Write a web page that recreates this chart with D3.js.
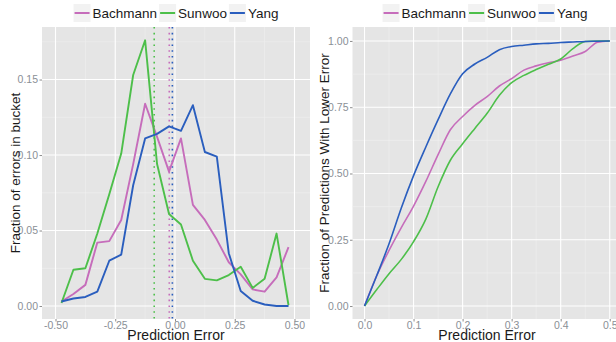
<!DOCTYPE html>
<html><head><meta charset="utf-8">
<script src="https://cdn.jsdelivr.net/npm/d3@7"></script>
<style>body{margin:0;background:#fff}svg{display:block}text{font-family:"Liberation Sans",Arial,sans-serif}</style>
</head><body>
<svg id="c" width="616" height="342"></svg>
<script>
// ---- data ----
const seriesNames = ["Bachmann", "Sunwoo", "Yang"];
const seriesColors = ["#C66DBB", "#4DBF4A", "#2A5EBE"];
const bucketCenters = [-0.475,-0.425,-0.375,-0.325,-0.275,-0.225,-0.175,-0.125,-0.075,-0.025,0.025,0.075,0.125,0.175,0.225,0.275,0.325,0.375,0.425,0.475];
const bachmannFrac = [0.003,0.008,0.014,0.042,0.043,0.057,0.094,0.134,0.112,0.089,0.111,0.067,0.057,0.044,0.029,0.021,0.011,0.0095,0.019,0.039];
const sunwooFrac   = [0.002,0.024,0.025,0.048,0.074,0.101,0.153,0.176,0.094,0.061,0.054,0.030,0.018,0.017,0.0205,0.026,0.012,0.018,0.048,0.0005];
const yangFrac     = [0.003,0.005,0.006,0.0095,0.030,0.034,0.080,0.111,0.114,0.119,0.116,0.133,0.102,0.099,0.035,0.010,0.0035,0.001,0.0,0.0];
const meanErrors   = [-0.024, -0.087, -0.011]; // Bachmann, Sunwoo, Yang
const cdfX = [0,0.025,0.05,0.075,0.1,0.125,0.15,0.175,0.2,0.225,0.25,0.275,0.3,0.325,0.35,0.375,0.4,0.425,0.45,0.475,0.5];
const bachmannCdf = [0,0.115,0.21,0.296,0.377,0.47,0.571,0.665,0.715,0.757,0.79,0.83,0.858,0.89,0.906,0.918,0.927,0.943,0.96,0.995,1.0];
const sunwooCdf   = [0,0.062,0.122,0.176,0.243,0.328,0.45,0.55,0.612,0.67,0.727,0.795,0.843,0.87,0.892,0.912,0.932,0.971,0.998,1.0,1.0];
const yangCdf     = [0,0.115,0.235,0.37,0.492,0.60,0.703,0.80,0.876,0.913,0.938,0.967,0.979,0.984,0.989,0.991,0.994,0.996,0.998,0.999,1.0];
const leftXTicks = [-0.5,-0.25,0,0.25,0.5];
const leftYTicks = [0,0.05,0.10,0.15];
const rightXTicks = [0,0.1,0.2,0.3,0.4,0.5];
const rightYTicks = [0,0.25,0.5,0.75,1.0];
const xTitle = "Prediction Error";
const leftYTitle = "Fraction of errors in bucket";
const rightYTitle = "Fraction of Predictions With Lower Error";

const svg = d3.select("#c");
const PANEL_BG = "#E5E5E5", MINOR = "#F0F0F0", MAJOR = "#FFFFFF", TICKC = "#8C8C8C";

function drawPanel(o) {
  const g = svg.append("g");
  const x = d3.scaleLinear().domain(o.xDom).range([o.x0, o.x1]);
  const y = d3.scaleLinear().domain(o.yDom).range([o.y1, o.y0]);
  g.append("rect").attr("x", o.x0).attr("y", o.y0).attr("width", o.x1 - o.x0).attr("height", o.y1 - o.y0).attr("fill", PANEL_BG);
  const mid = t => t.slice(0, -1).map((v, i) => (v + t[i + 1]) / 2);
  const xm = mid(o.xTicks), ym = mid(o.yTicks);
  const xstep = o.xTicks[1] - o.xTicks[0], ystep = o.yTicks[1] - o.yTicks[0];
  xm.push(o.xTicks[o.xTicks.length - 1] + xstep / 2); xm.unshift(o.xTicks[0] - xstep / 2);
  ym.push(o.yTicks[o.yTicks.length - 1] + ystep / 2);
  g.selectAll(".mx").data(xm.filter(v => x(v) > o.x0 && x(v) < o.x1)).join("line")
    .attr("x1", d => x(d)).attr("x2", d => x(d)).attr("y1", o.y0).attr("y2", o.y1).attr("stroke", MINOR).attr("stroke-width", 0.6);
  g.selectAll(".my").data(ym.filter(v => y(v) > o.y0 && y(v) < o.y1)).join("line")
    .attr("y1", d => y(d)).attr("y2", d => y(d)).attr("x1", o.x0).attr("x2", o.x1).attr("stroke", MINOR).attr("stroke-width", 0.6);
  g.selectAll(".Mx").data(o.xTicks).join("line")
    .attr("x1", d => x(d)).attr("x2", d => x(d)).attr("y1", o.y0).attr("y2", o.y1).attr("stroke", MAJOR).attr("stroke-width", 1.1);
  g.selectAll(".My").data(o.yTicks).join("line")
    .attr("y1", d => y(d)).attr("y2", d => y(d)).attr("x1", o.x0).attr("x2", o.x1).attr("stroke", MAJOR).attr("stroke-width", 1.1);
  const xa = g.append("g").attr("transform", `translate(0,${o.y1})`)
    .call(d3.axisBottom(x).tickValues(o.xTicks).tickFormat(d => o.xFmt(d).replace("−", "-")).tickSize(2.5).tickPadding(0.5));
  const ya = g.append("g").attr("transform", `translate(${o.x0},0)`)
    .call(d3.axisLeft(y).tickValues(o.yTicks).tickFormat(d => d3.format(".2f")(d)).tickSize(2.5).tickPadding(1.5));
  [xa, ya].forEach(a => {
    a.select(".domain").remove();
    a.selectAll("line").attr("stroke", TICKC);
    a.selectAll("text").attr("fill", "#8A8F96").attr("font-size", 10.5);
  });
  g.append("text").attr("x", o.xTitleX).attr("y", 339.5)
    .attr("text-anchor", "middle").attr("font-size", 14).attr("fill", "#1a1a1a").text(xTitle);
  g.append("text").attr("transform", `translate(${o.yTitleX},${(o.y0 + o.y1) / 2}) rotate(-90)`)
    .attr("text-anchor", "middle").attr("font-size", 13.5).attr("fill", "#1a1a1a").text(o.yTitle);
  return { g, x, y };
}

// ---- left panel ----
const L = drawPanel({ x0: 42, x1: 310, y0: 27, y1: 319, xDom: [-0.5565, 0.5649], yDom: [-0.0086, 0.1848],
  xTicks: leftXTicks, yTicks: leftYTicks, xFmt: d3.format(".2f"), yTitle: leftYTitle, yTitleX: 20, xTitleX: 176 });
const leftSeries = [bachmannFrac, sunwooFrac, yangFrac];
meanErrors.forEach((m, i) => {
  L.g.append("line").attr("x1", L.x(m)).attr("x2", L.x(m)).attr("y1", 27).attr("y2", 319)
    .attr("stroke", seriesColors[i]).attr("stroke-width", 1.6).attr("stroke-dasharray", "1.6,4.2");
});
const lineL = d3.line().x((d, i) => L.x(bucketCenters[i])).y(d => L.y(d));
leftSeries.forEach((s, i) => {
  L.g.append("path").attr("d", lineL(s)).attr("fill", "none").attr("stroke", seriesColors[i]).attr("stroke-width", 1.9).attr("stroke-linejoin", "round");
});

// ---- right panel ----
const R = drawPanel({ x0: 352.5, x1: 622, y0: 27, y1: 319, xDom: [-0.0245, 0.525], yDom: [-0.0489, 1.0526],
  xTicks: rightXTicks, yTicks: rightYTicks, xFmt: d3.format(".1f"), yTitle: rightYTitle, yTitleX: 329, xTitleX: 487 });
const rightSeries = [bachmannCdf, sunwooCdf, yangCdf];
const lineR = d3.line().x((d, i) => R.x(cdfX[i])).y(d => R.y(d)).curve(d3.curveMonotoneX);
rightSeries.forEach((s, i) => {
  R.g.append("path").attr("d", lineR(s)).attr("fill", "none").attr("stroke", seriesColors[i]).attr("stroke-width", 1.6);
});

// ---- legends ----
function legend(cx) {
  const g = svg.append("g");
  let xpos = 0;
  seriesNames.forEach((n, i) => {
    const it = g.append("g").attr("transform", `translate(${xpos},0)`);
    it.append("rect").attr("x", 0).attr("y", -9).attr("width", 17).attr("height", 18).attr("fill", "#F2F2F2");
    it.append("line").attr("x1", 1).attr("x2", 16).attr("y1", 0).attr("y2", 0).attr("stroke", seriesColors[i]).attr("stroke-width", 2);
    const t = it.append("text").attr("x", 19).attr("y", 5).attr("font-size", 13.5).attr("fill", "#1a1a1a").text(n);
    xpos += 19 + t.node().getComputedTextLength() + 2;
  });
  g.attr("transform", `translate(${cx - xpos / 2},13)`);
}
legend(177);
legend(486);
</script>
</body></html>
